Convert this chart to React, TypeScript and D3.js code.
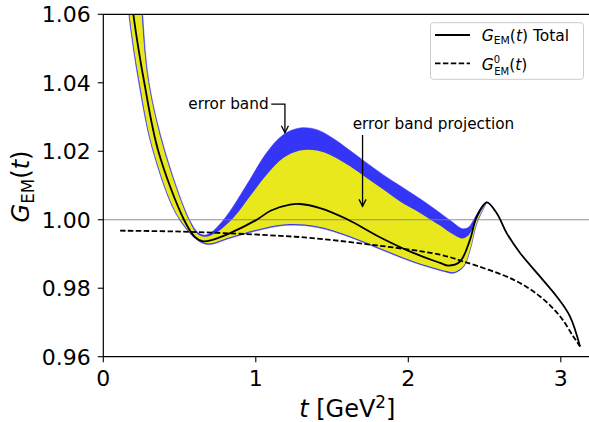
import React, { useLayoutEffect } from "react";
import * as d3 from "d3";

// ---- axis ticks ----
const xTicks = [0, 1, 2, 3];
const yTicks = [0.96, 0.98, 1.0, 1.02, 1.04, 1.06];
const xDomain = [0, 3.2];
const yDomain = [0.96, 1.06];

// ---- G_EM(t) Total (solid) ----
const totalT = [0.16, 0.197, 0.269, 0.361, 0.529, 0.6, 0.654, 0.72, 0.831, 1.006, 1.1, 1.224, 1.29, 1.421, 1.596, 1.814, 2.033, 2.208, 2.262, 2.339, 2.405, 2.449, 2.514, 2.58, 2.645, 2.733, 2.864, 2.973, 3.06, 3.126];
const totalG = [1.075, 1.06, 1.04, 1.02, 1.0, 0.995, 0.9937, 0.9942, 0.9961, 1.0, 1.0027, 1.0044, 1.0046, 1.0034, 1.0002, 0.9949, 0.9903, 0.9874, 0.9866, 0.9878, 0.9942, 1.001, 1.0051, 1.0019, 0.9961, 0.9903, 0.9834, 0.9776, 0.9718, 0.963];

// ---- G^0_EM(t) (dashed) ----
const g0T = [0.11, 0.45, 0.788, 1.159, 1.355, 1.705, 2.208, 2.362, 2.689, 2.864, 2.995, 3.082, 3.126];
const g0G = [0.9968, 0.9966, 0.9961, 0.9953, 0.9947, 0.993, 0.9898, 0.9878, 0.9825, 0.9776, 0.9718, 0.9659, 0.963];

// ---- outer (blue) error band ----
const blueUpT = [0.243, 0.258, 0.3, 0.405, 0.565, 0.622, 0.665, 0.705, 0.78, 0.852, 0.961, 1.07, 1.18, 1.29, 1.4, 1.508, 1.618, 1.727, 1.836, 1.946, 2.077, 2.208, 2.287, 2.352, 2.392, 2.437, 2.477, 2.516];
const blueUpG = [1.075, 1.06, 1.04, 1.02, 1.0, 0.9962, 0.9955, 0.9962, 0.9995, 1.0039, 1.0117, 1.0195, 1.0248, 1.0268, 1.0263, 1.0237, 1.0202, 1.0166, 1.0131, 1.0099, 1.0061, 1.002, 0.9994, 0.9974, 0.9977, 1.0006, 1.0035, 1.0053];
const blueLoT = [0.135, 0.167, 0.233, 0.326, 0.5, 0.667, 0.831, 1.006, 1.2, 1.4, 1.618, 1.836, 2.033, 2.252, 2.296, 2.362, 2.405, 2.449, 2.514];
const blueLoG = [1.075, 1.06, 1.04, 1.02, 1.0, 0.9929, 0.9946, 0.9968, 0.9984, 0.9978, 0.9949, 0.991, 0.9876, 0.9847, 0.9844, 0.9862, 0.991, 0.9988, 1.005];

// ---- inner (yellow) error band ----
const yelUpT = [0.238, 0.252, 0.296, 0.4, 0.56, 0.618, 0.665, 0.74, 0.852, 0.961, 1.07, 1.18, 1.29, 1.4, 1.508, 1.618, 1.727, 1.836, 1.946, 2.077, 2.208, 2.287, 2.352, 2.392, 2.431, 2.47, 2.516];
const yelUpG = [1.075, 1.06, 1.04, 1.02, 1.0, 0.9958, 0.995, 0.9962, 1.0005, 1.0068, 1.0131, 1.018, 1.0202, 1.0202, 1.0185, 1.0156, 1.0122, 1.0088, 1.0053, 1.002, 0.9983, 0.9959, 0.9945, 0.9953, 0.9983, 1.002, 1.005];
const yelLoT = [0.14, 0.171, 0.238, 0.33, 0.505, 0.667, 0.831, 1.006, 1.2, 1.4, 1.618, 1.836, 2.033, 2.252, 2.296, 2.362, 2.405, 2.449, 2.514];
const yelLoG = [1.075, 1.06, 1.04, 1.02, 1.0, 0.9932, 0.9949, 0.9971, 0.9987, 0.9981, 0.9952, 0.9913, 0.9879, 0.985, 0.9847, 0.9865, 0.9913, 0.9991, 1.005];

// ---- annotations ----
const annLabels = ["error band", "error band projection"];
const annTextT = [0.557, 1.635];
const annTextG = [1.0323, 1.0265];
const annTipT = [1.191, 1.70];
const annTipG = [1.0254, 1.0039];

const W = 589;
const H = 422;
const FONT = "DejaVu Sans, sans-serif";

const x = d3.scaleLinear().domain(xDomain).range([103.3, 591.3]);
const y = d3.scaleLinear().domain(yDomain).range([356.7, 14.3]);

const zip = (a: number[], b: number[]) => a.map((v, i) => [v, b[i]] as [number, number]);

const line = d3
  .line<[number, number]>()
  .x((d) => x(d[0]))
  .y((d) => y(d[1]))
  .curve(d3.curveCatmullRom.alpha(0.5));

const bandPath = (uT: number[], uG: number[], lT: number[], lG: number[]) => {
  const up = line(zip(uT, uG)) || "";
  const lo = line(zip(lT, lG).reverse()) || "";
  return up + lo.replace(/^M/, "L") + "Z";
};

const arrowHead = (tx: number, ty: number, dx: number, dy: number) => {
  const len = Math.hypot(dx, dy);
  const ux = dx / len;
  const uy = dy / len;
  const L = 7;
  const Wd = 3.5;
  const bx = tx - ux * L;
  const by = ty - uy * L;
  return `M${bx - uy * Wd},${by + ux * Wd}L${tx},${ty}L${bx + uy * Wd},${by - ux * Wd}`;
};

export default function App() {
  useLayoutEffect(() => {
    document.body.style.margin = "0";
  }, []);

  const [x0, x1] = x.range();
  const [yb, yt] = y.range();

  return (
    <svg width={W} height={H} style={{ display: "block" }} fontFamily={FONT}>
      <defs>
        <clipPath id="plotclip">
          <rect x={x0} y={yt} width={x1 - x0} height={yb - yt} />
        </clipPath>
      </defs>
      <rect x={0} y={0} width={W} height={H} fill="#ffffff" />

      <g clipPath="url(#plotclip)">
        <path d={bandPath(blueUpT, blueUpG, blueLoT, blueLoG)} fill="#3535f8" stroke="#3535f8" strokeWidth={0.6} />
        <path d={bandPath(yelUpT, yelUpG, yelLoT, yelLoG)} fill="#e8e81c" stroke="none" />
        <line x1={x0} x2={x1} y1={y(1.0)} y2={y(1.0)} stroke="#7f7f7f" strokeOpacity={0.85} strokeWidth={1.2} />
        <path d={line(zip(g0T, g0G)) || ""} fill="none" stroke="#000" strokeWidth={1.8} strokeDasharray="5.5,2.4" />
        <path d={line(zip(totalT, totalG)) || ""} fill="none" stroke="#000" strokeWidth={1.8} />
      </g>

      {/* spines */}
      <line x1={x0} x2={x0} y1={yt} y2={yb} stroke="#000" strokeWidth={1.2} />
      <line x1={x0} x2={x1} y1={yb} y2={yb} stroke="#000" strokeWidth={1.2} />
      <line x1={x0} x2={x1} y1={yt} y2={yt} stroke="#000" strokeWidth={1.2} />
      <line x1={x1} x2={x1} y1={yt} y2={yb} stroke="#000" strokeWidth={1.2} />

      {/* x ticks */}
      {xTicks.map((t) => (
        <g key={"xt" + t}>
          <line x1={x(t)} x2={x(t)} y1={yb} y2={yb + 5.5} stroke="#000" strokeWidth={1.1} />
          <text x={x(t)} y={386} fontSize={22} textAnchor="middle" fill="#000">
            {String(t)}
          </text>
        </g>
      ))}
      {/* y ticks */}
      {yTicks.map((v) => (
        <g key={"yt" + v}>
          <line x1={x0 - 5.5} x2={x0} y1={y(v)} y2={y(v)} stroke="#000" strokeWidth={1.1} />
          <text x={90.7} y={y(v) + 8} fontSize={22} textAnchor="end" fill="#000">
            {v.toFixed(2)}
          </text>
        </g>
      ))}

      {/* axis labels */}
      <text x={(x0 + x1) / 2} y={417} fontSize={24} textAnchor="middle" fill="#000">
        <tspan fontStyle="italic">t</tspan>
        <tspan> [GeV</tspan>
        <tspan fontSize={16.8} dy={-9}>2</tspan>
        <tspan dy={9}>]</tspan>
      </text>
      <text transform={`translate(29,${(yt + yb) / 2 + 1}) rotate(-90)`} fontSize={24} textAnchor="middle" fill="#000">
        <tspan fontStyle="italic">G</tspan>
        <tspan fontSize={16.8} dy={5}>EM</tspan>
        <tspan dy={-5}>(</tspan>
        <tspan fontStyle="italic">t</tspan>
        <tspan>)</tspan>
      </text>

      {/* annotations */}
      {annLabels.map((lab, i) => {
        const tx = x(annTextT[i]);
        const ty = y(annTextG[i]);
        const px = x(annTipT[i]);
        const py = y(annTipG[i]);
        let d: string;
        if (i === 0) {
          const sx = tx + 83;
          const sy = ty - 5;
          d = `M${sx},${sy}L${px},${sy}L${px},${py}`;
        } else {
          d = `M${px},${ty + 6}L${px},${py}`;
        }
        return (
          <g key={"ann" + i}>
            <text x={tx} y={ty} fontSize={15.3} fill="#000">
              {lab}
            </text>
            <path d={d} fill="none" stroke="#000" strokeWidth={1.3} />
            <path d={arrowHead(px, py, 0, 1)} fill="none" stroke="#000" strokeWidth={1.3} />
          </g>
        );
      })}

      {/* legend */}
      <rect x={430.5} y={22.7} width={153} height={56.6} rx={3} fill="#fff" fillOpacity={0.8} stroke="#cccccc" strokeWidth={1} />
      <line x1={435} x2={470} y1={35} y2={35} stroke="#000" strokeWidth={1.8} />
      <line x1={435} x2={470} y1={63.3} y2={63.3} stroke="#000" strokeWidth={1.8} strokeDasharray="5.5,2.4" />
      <text x={481.7} y={40.8} fontSize={15.5} fill="#000">
        <tspan fontStyle="italic">G</tspan>
        <tspan fontSize={10.8} dy={3}>EM</tspan>
        <tspan dy={-3}>(</tspan>
        <tspan fontStyle="italic">t</tspan>
        <tspan>) Total</tspan>
      </text>
      <text x={481.7} y={69.5} fontSize={15.5} fill="#000">
        <tspan fontStyle="italic">G</tspan>
        <tspan fontSize={10} dy={-6.5}>0</tspan>
        <tspan fontSize={10} x={494.2} dy={12}>EM</tspan>
        <tspan dy={-5.5}>(</tspan>
        <tspan fontStyle="italic">t</tspan>
        <tspan>)</tspan>
      </text>
    </svg>
  );
}
